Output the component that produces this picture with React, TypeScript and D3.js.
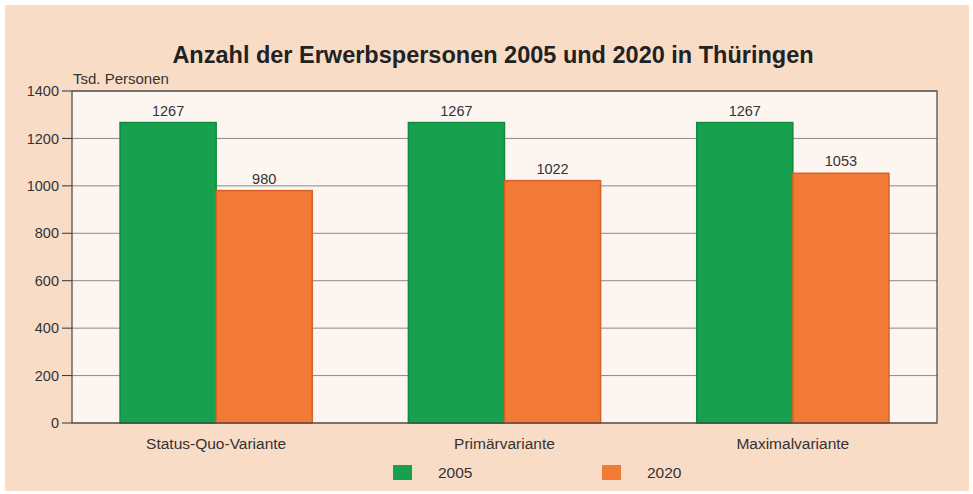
import React from "react";
import * as d3 from "d3";

const categories = ["Status-Quo-Variante", "Primärvariante", "Maximalvariante"];
const seriesNames = ["2005", "2020"];
const values2005 = [1267, 1267, 1267];
const values2020 = [980, 1022, 1053];
const yTicks = [0, 200, 400, 600, 800, 1000, 1200, 1400];

const W = 973, H = 494;
const M = { left: 72, right: 36, top: 91, bottom: 71 };
const colors = ["#17a04e", "#f07a36"];
const strokes = ["#0f8a3e", "#d8612a"];

export default function App() {
  const x = d3.scaleBand<string>().domain(categories).range([M.left, W - M.right]).paddingInner(0).paddingOuter(0);
  const y = d3.scaleLinear().domain([0, 1400]).range([H - M.bottom, M.top]);
  const bw = x.bandwidth() / 3;
  const series = [values2005, values2020];
  const font = "Liberation Sans, Arial, sans-serif";
  const txt = "#333";
  return (
    <svg width={W} height={H} style={{ position: "absolute", left: 0, top: 0 }} fontFamily={font}>
      <rect x={0} y={0} width={W} height={H} fill="#ffffff" />
      <rect x={5} y={5} width={W - 9} height={H - 8} fill="#f9dcc6" />
      <rect x={M.left} y={M.top} width={W - M.left - M.right} height={H - M.top - M.bottom} fill="#fdf5f0" />
      {yTicks.map((t) => (
        <g key={t}>
          <line x1={M.left} x2={W - M.right} y1={y(t)} y2={y(t)} stroke="#8a8a8a" strokeWidth={1} />
          <line x1={M.left - 10} x2={M.left} y1={y(t)} y2={y(t)} stroke="#333" strokeWidth={1} />
          <text x={M.left - 13} y={y(t)} dy="0.35em" textAnchor="end" fontSize={14.5} fill={txt}>{t}</text>
        </g>
      ))}
      {categories.map((c, i) =>
        series.map((s, j) => {
          const bx = (x(c) as number) + bw * (0.5 + j);
          return (
            <g key={c + j}>
              <rect x={bx} y={y(s[i])} width={bw} height={y(0) - y(s[i])} fill={colors[j]} stroke={strokes[j]} strokeWidth={1.5} />
              <text x={bx + bw / 2} y={y(s[i]) - 7} textAnchor="middle" fontSize={14.5} fill={txt}>{s[i]}</text>
            </g>
          );
        })
      )}
      <rect x={M.left} y={M.top} width={W - M.left - M.right} height={H - M.top - M.bottom} fill="none" stroke="#444" strokeWidth={1.2} />
      {categories.map((c) => (
        <text key={c} x={(x(c) as number) + x.bandwidth() / 2} y={449} textAnchor="middle" fontSize={15.5} fill={txt}>{c}</text>
      ))}
      <text x={493} y={63} textAnchor="middle" fontSize={23.5} fontWeight="bold" fill="#222">Anzahl der Erwerbspersonen 2005 und 2020 in Thüringen</text>
      <text x={73} y={84} fontSize={15} fill={txt}>Tsd. Personen</text>
      {seriesNames.map((n, j) => (
        <g key={n}>
          <rect x={[393, 602][j]} y={465} width={19} height={15} fill={colors[j]} />
          <text x={[438, 647][j]} y={478} fontSize={15.5} fill={txt}>{n}</text>
        </g>
      ))}
    </svg>
  );
}
